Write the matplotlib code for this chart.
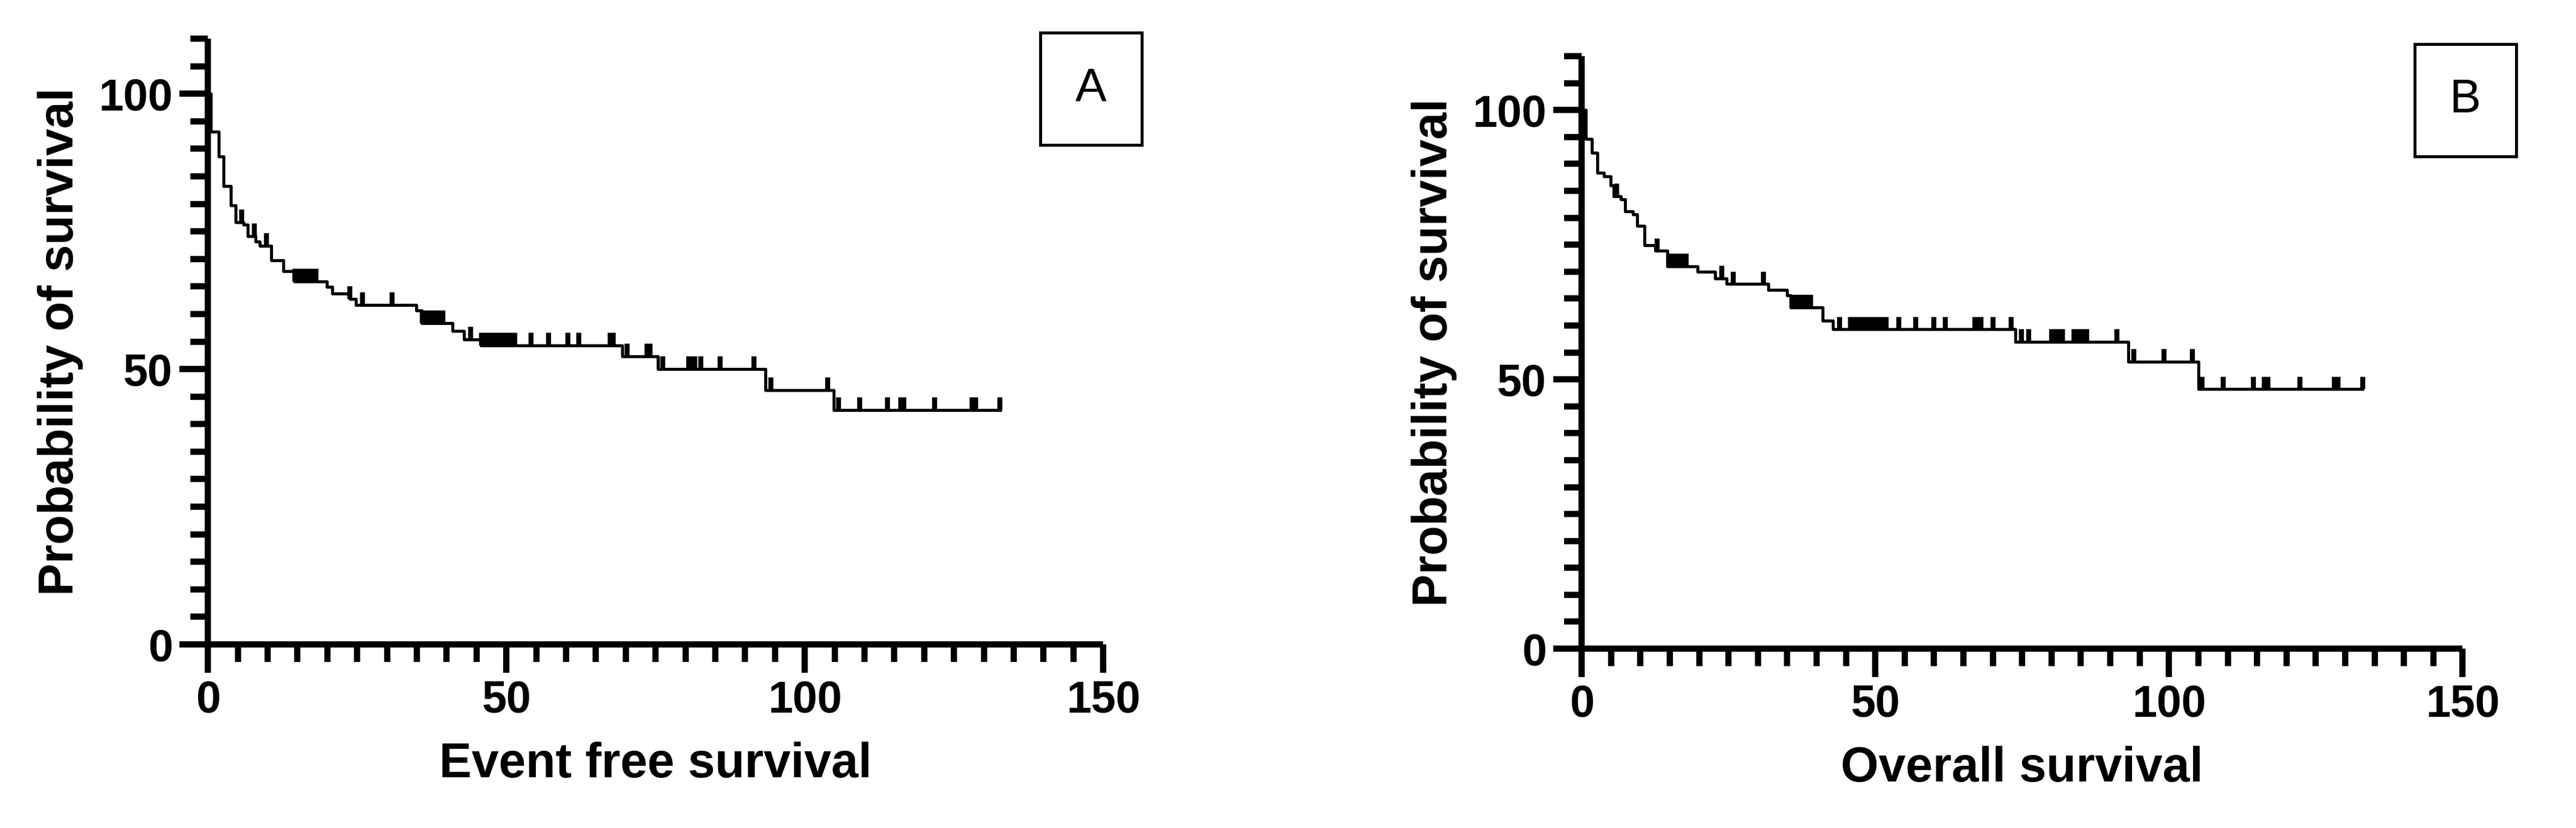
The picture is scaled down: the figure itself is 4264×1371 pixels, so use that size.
import matplotlib
matplotlib.use("Agg")
import matplotlib.pyplot as plt
from matplotlib.patches import Rectangle
from matplotlib.ticker import MultipleLocator
import numpy as np

# Panel A: event free survival (step times and level after each step)
efs_times = [0.5, 1.8, 2.6, 3.8, 4.6, 6.0, 6.7, 8.0, 8.7, 10.6, 12.6, 14.5, 19.9, 20.8,
             23.8, 24.8, 34.9, 35.8, 41.0, 42.9, 45.7, 69.4, 75.4, 93.4, 104.8]
efs_levels = [93.1, 88.6, 83.2, 79.7, 76.7, 76.2, 74.1, 73.2, 72.4, 69.7, 67.8, 65.9, 64.9, 63.7,
              62.7, 61.6, 60.6, 58.3, 56.9, 55.4, 54.3, 52.3, 50.0, 46.2, 42.6]
efs_censor = [5.7, 7.8, 9.8, 14.6, 15.2, 15.8, 16.4, 17.0, 17.6, 18.1, 23.8, 25.9, 30.9,
              35.9, 36.5, 37.1, 37.7, 38.3, 38.9, 39.4, 44.0, 45.8, 46.4, 47.0, 47.6, 48.2,
              48.8, 49.4, 50.0, 50.6, 51.4, 54.1, 57.1, 60.3, 62.1, 67.4, 67.9, 70.2, 73.6,
              74.1, 76.2, 80.5, 81.0, 81.6, 82.6, 85.8, 91.5, 94.3, 103.8, 105.6, 109.2,
              113.8, 116.1, 116.6, 121.7, 128.0, 128.6, 132.7]
efs_end = 133.0

# Panel B: overall survival
os_times = [0.7, 1.7, 2.7, 3.8, 4.9, 5.4, 6.7, 7.4, 8.7, 9.5, 10.7, 12.5, 14.6, 19.7,
            22.7, 24.7, 31.8, 35.0, 35.6, 41.0, 42.8, 73.8, 93.1, 105.0]
os_levels = [94.7, 92.1, 88.4, 87.7, 86.0, 84.0, 83.4, 81.2, 80.6, 78.5, 74.9, 73.9, 71.0, 70.0,
             68.8, 67.7, 66.6, 65.6, 63.4, 60.9, 59.3, 57.0, 53.3, 48.2]
os_censor = [6.0, 12.8, 14.8, 15.4, 16.0, 16.6, 17.2, 17.8, 23.9, 25.8, 30.9,
             36.0, 36.6, 37.2, 37.8, 38.4, 39.0, 43.9, 45.8, 46.4, 47.0, 47.6, 48.2, 48.8,
             49.4, 50.0, 50.6, 51.2, 51.8, 54.0, 56.9, 60.0, 61.9, 67.0, 67.5, 68.0, 70.0,
             73.1, 74.9, 76.1, 80.0, 80.6, 81.2, 81.9, 83.8, 84.5, 85.2, 86.0, 91.1, 94.0,
             99.1, 104.0, 105.6, 109.2, 114.4, 116.2, 116.8, 122.3, 128.2, 128.8, 133.0]
os_end = 133.2

x_labels = ["Event free survival", "Overall survival"]
y_label = "Probability of survival"
panel_tags = ["A", "B"]

plt.rcParams["font.family"] = ["Liberation Sans", "DejaVu Sans"]

fig = plt.figure(figsize=(42.64, 13.71), dpi=100)
ax_a = fig.add_axes([0.0807, 0.2217, 0.3476, 0.7316])
ax_b = fig.add_axes([0.614, 0.2166, 0.342, 0.7155])


def draw_km(ax, times, levels, censor, end, xlabel):
    xs = np.concatenate([[0], times, [end]])
    ys = np.concatenate([[100], levels, [levels[-1]]])
    ax.step(xs, ys, where="post", color="black", lw=3.6, solid_capstyle="butt")
    # censor marks sit on the level in force at that time
    idx = np.searchsorted(times, censor, side="right")
    lv = np.concatenate([[100], levels])[idx]
    ax.vlines(censor, lv, lv + 2.3, color="black", lw=6)

    ax.set_xlim(0, 150)
    ax.set_ylim(0, 110)
    ax.spines["top"].set_visible(False)
    ax.spines["right"].set_visible(False)
    for s in ("left", "bottom"):
        ax.spines[s].set_linewidth(7.5)
        ax.spines[s].set_capstyle("butt")
    ax.xaxis.set_major_locator(MultipleLocator(50))
    ax.xaxis.set_minor_locator(MultipleLocator(5))
    ax.yaxis.set_major_locator(MultipleLocator(50))
    ax.yaxis.set_minor_locator(MultipleLocator(5))
    ax.tick_params(which="major", length=34, width=7.5, labelsize=53, pad=8)
    ax.tick_params(which="minor", length=21, width=7.5)
    for lab in ax.get_xticklabels() + ax.get_yticklabels():
        lab.set_fontweight("bold")
    ax.set_xlabel(xlabel, fontsize=58, fontweight="bold", labelpad=24)
    ax.set_ylabel(y_label, fontsize=58, fontweight="bold", labelpad=18)


draw_km(ax_a, efs_times, efs_levels, efs_censor, efs_end, x_labels[0])
draw_km(ax_b, os_times, os_levels, os_censor, os_end, x_labels[1])

# panel tags in boxes
for (cx, cy), tag in zip([(0.4236, 0.893), (0.957, 0.879)], panel_tags):
    w, h = 168 / 4264, 186 / 1371
    fig.patches.append(Rectangle((cx - w / 2, cy - h / 2), w, h, transform=fig.transFigure,
                                 fill=False, edgecolor="black", lw=3.5))
    fig.text(cx, cy, tag, ha="center", va="center", fontsize=56)

fig.savefig("out.png", dpi=100)
